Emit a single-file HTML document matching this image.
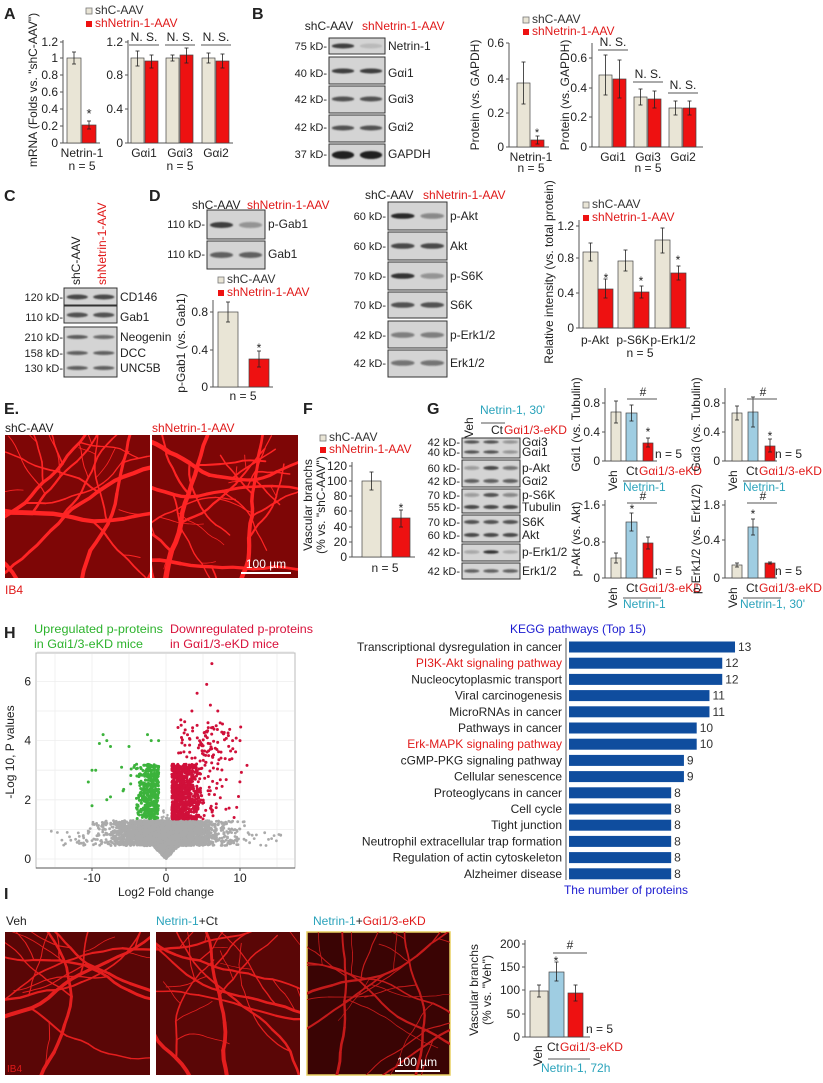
<!DOCTYPE html>
<html><head><meta charset="utf-8">
<style>
html,body{margin:0;padding:0;background:#fff;width:823px;height:1083px;overflow:hidden;}
svg{display:block;font-family:"Liberation Sans",Arial,sans-serif;}
</style></head>
<body>
<svg id="fig" width="823" height="1083" viewBox="0 0 823 1083" xmlns="http://www.w3.org/2000/svg"></svg>
<script>
let s='';
let seed=12345;
function rnd(){seed|=0;seed=seed+0x6D2B79F5|0;let t=Math.imul(seed^seed>>>15,1|seed);t=t+Math.imul(t^t>>>7,61|t)^t;return((t^t>>>14)>>>0)/4294967296;}
function gauss(){return Math.sqrt(-2*Math.log(rnd()+1e-9))*Math.cos(2*Math.PI*rnd());}
const BE='#e9e5d6',RD='#ee1111',BL='#9fcde2',CY='#2aa3bb',RT='#e01a1a';
function T(x,y,t,o={}){s+=`<text x="${x}" y="${y}" font-size="${o.fs||11}" fill="${o.c||'#222'}" text-anchor="${o.a||'start'}"${o.b?' font-weight="bold"':''}${o.r!=null?` transform="rotate(${o.r} ${x} ${y})"`:''}${o.tl?` textLength="${o.tl}" lengthAdjust="spacingAndGlyphs"`:''}>${t}</text>`;}
function R(x,y,w,h,f,st,sw){s+=`<rect x="${x}" y="${y}" width="${w}" height="${h}" fill="${f}"${st?` stroke="${st}" stroke-width="${sw||0.8}"`:''}/>`;}
function L(x1,y1,x2,y2,c,w){s+=`<line x1="${x1}" y1="${y1}" x2="${x2}" y2="${y2}" stroke="${c||'#333'}" stroke-width="${w||1}"/>`;}
function bar(x0,x1,top,base,f,e1,e2){R(x0,top,x1-x0,base-top,f,'#444',0.7);if(e1!=null){const c=(x0+x1)/2;L(c,e1,c,e2,'#222',0.8);L(c-2,e1,c+2,e1,'#222',0.8);L(c-2,e2,c+2,e2,'#222',0.8);}}
function axis(x,y0,y1,ticks,be,fs){L(x,y0,x,y1,'#555',1);ticks.forEach(t=>{L(x-3,t[0],x,t[0],'#555',1);T(x-5,t[0]+4,t[1],{a:'end',fs:fs||12});});L(x,y1,be,y1,'#555',1);}
function blot(x0,y0,x1,y1,bands){R(x0,y0,x1-x0,y1-y0,'#d4d4d4','#333',1);bands.forEach(b=>{const n=b[1].length,lw=(x1-x0)/n;b[1].forEach((v,i)=>{s+=`<ellipse cx="${x0+lw*(i+0.5)}" cy="${b[0]}" rx="${lw*0.4}" ry="${b[2]||2.5}" fill="rgba(25,25,25,${v})" filter="url(#bl)"/>`;});});}
function kd(x,y,t){T(x,y,t+'-',{a:'end',fs:11});}
function leg(x,y,dy,fs){R(x,y-6,6,6,BE,'#777',0.8);T(x+9,y,'shC-AAV',{fs:fs||12,c:'#333'});R(x,y+dy-6,6,6,RD);T(x+9,y+dy,'shNetrin-1-AAV',{fs:fs||12,c:RT});}
let cid=0;
function retina(x,y,w,h,bg,col,sd,trunks,wmul,border){
 cid++;seed=sd;s+=`<clipPath id="c${cid}"><rect x="${x}" y="${y}" width="${w}" height="${h}"/></clipPath>`;
 R(x,y,w,h,bg,border||null,border?1.5:0);
 s+=`<g clip-path="url(#c${cid})" stroke="${col}" fill="none" stroke-linecap="round" stroke-linejoin="round">`;
 function br(px,py,a,wd,len,d){if(d<=0||wd<0.6)return;let cx=px,cy=py,p=`M${px.toFixed(1)} ${py.toFixed(1)}`;for(let i=0;i<3;i++){a+=(rnd()-0.5)*0.35;cx+=Math.cos(a)*len/3;cy+=Math.sin(a)*len/3;p+=` L${cx.toFixed(1)} ${cy.toFixed(1)}`;}
  s+=`<path d="${p}" stroke-width="${wd.toFixed(1)}"/>`;
  br(cx,cy,a+(rnd()-0.5)*0.3,wd*0.92,len,d-1);
  if(rnd()<0.5)br(cx,cy,a+(rnd()<0.5?-1:1)*(0.6+rnd()*0.6),wd*0.5,len*0.75,d-2);}
 for(let i=0;i<trunks;i++){const side=rnd();let px,py,a;if(side<0.4){px=x+rnd()*w;py=y+h+3;a=-Math.PI/2+(rnd()-0.5)*1.2;}else if(side<0.7){px=x-3;py=y+rnd()*h;a=(rnd()-0.5)*1.4;}else{px=x+w+3;py=y+rnd()*h;a=Math.PI+(rnd()-0.5)*1.4;}br(px,py,a,(3+rnd()*2.5)*wmul,22+rnd()*10,8);}
 s+='</g>';}
s+=`<defs><filter id="bl" x="-20%" y="-100%" width="140%" height="300%"><feGaussianBlur stdDeviation="0.9"/></filter></defs>`;
R(0,0,823,1083,'#fff');

// ===== A =====
T(4,19,'A',{fs:16,b:1});leg(86,14,13);
axis(63,40,143,[[42,'1.2'],[58,'1'],[75,'0.8'],[92,'0.6'],[109,'0.4'],[126,'0.2'],[143,'0']],100);
bar(67,81,58,143,BE,52,64);bar(82,96,125,143,RD,121,129);T(89,118,'*',{a:'middle',fs:13});
T(82,157,'Netrin-1',{a:'middle',fs:12});T(82,170,'n = 5',{a:'middle',fs:12});
T(37,90,'mRNA (Folds vs. "shC-AAV")',{a:'middle',fs:12,r:-90});
axis(128,40,143,[[42,'1.2'],[75,'0.8'],[109,'0.4'],[143,'0']],233);
bar(131,144,58,143,BE,51,66);bar(145,158,61,143,RD,55,68);
bar(166,179,58,143,BE,55,61);bar(180,193,55,143,RD,48,63);
bar(202,215,58,143,BE,53,63);bar(216,229,61,143,RD,54,68);
[[144,'Gαi1'],[180,'Gαi3'],[216,'Gαi2']].forEach(g=>{T(g[0],41,'N. S.',{a:'middle',fs:12});L(g[0]-15,45,g[0]+15,45,'#555',1);T(g[0],157,g[1],{a:'middle',fs:12});});
T(180,170,'n = 5',{a:'middle',fs:12});

// ===== B =====
T(252,19,'B',{fs:16,b:1});
T(329,30,'shC-AAV',{a:'middle',fs:12});T(362,30,'shNetrin-1-AAV',{fs:12,c:RT});
blot(329,38,385,54,[[46,[0.8,0.12],2.5]]);blot(329,57,385,84,[[71,[0.8,0.8],2.5]]);blot(329,86,385,113,[[99,[0.7,0.7],2.5]]);blot(329,115,385,142,[[128,[0.7,0.7],2.5]]);blot(329,144,385,166,[[155,[0.95,0.95],4]]);
kd(327,50,'75 kD');kd(327,77,'40 kD');kd(327,103,'42 kD');kd(327,131,'42 kD');kd(327,158,'37 kD');
T(388,50,'Netrin-1',{fs:12});T(388,77,'Gαi1',{fs:12});T(388,103,'Gαi3',{fs:12});T(388,131,'Gαi2',{fs:12});T(388,158,'GAPDH',{fs:12});
leg(523,23,12);
axis(509,43,147,[[43,'0.6'],[79,'0.4'],[113,'0.2'],[147,'0']],549);
bar(517,530,83,147,BE,62,104);bar(531,544,140,147,RD,136,144);T(537,136,'*',{a:'middle',fs:11});
T(531,161,'Netrin-1',{a:'middle',fs:12});T(531,172,'n = 5',{a:'middle',fs:12});
T(479,95,'Protein (vs. GAPDH)',{a:'middle',fs:12,r:-90});
axis(592,43,147,[[58,'0.6'],[88,'0.4'],[117,'0.2'],[147,'0']],703);
bar(599,612,75,147,BE,55,95);bar(613,626,79,147,RD,60,98);
bar(634,647,97,147,BE,89,105);bar(648,661,99,147,RD,91,108);
bar(669,682,108,147,BE,101,115);bar(683,696,108,147,RD,101,115);
[[613,46,'Gαi1'],[648,78,'Gαi3'],[683,89,'Gαi2']].forEach(g=>{T(g[0],g[1],'N. S.',{a:'middle',fs:12});L(g[0]-15,g[1]+4,g[0]+15,g[1]+4,'#555',1);T(g[0],161,g[2],{a:'middle',fs:12});});
T(648,172,'n = 5',{a:'middle',fs:12});
T(569,95,'Protein (vs. GAPDH)',{a:'middle',fs:12,r:-90});

// ===== C =====
T(4,201,'C',{fs:16,b:1});
T(80,285,'shC-AAV',{fs:12,r:-90});T(106,285,'shNetrin-1-AAV',{fs:12,r:-90,c:RT});
blot(64,288,117,305,[[297,[0.75,0.75],2.5]]);blot(64,306,117,323,[[315,[0.7,0.7],2.5]]);
blot(64,327,117,377,[[337,[0.65,0.55],2],[353,[0.6,0.6],2],[368,[0.6,0.6],2]]);
kd(63,301,'120 kD');kd(63,321,'110 kD');kd(63,341,'210 kD');kd(63,357,'158 kD');kd(63,372,'130 kD');
T(120,301,'CD146',{fs:12});T(120,321,'Gab1',{fs:12});T(120,341,'Neogenin',{fs:12});T(120,357,'DCC',{fs:12});T(120,372,'UNC5B',{fs:12});

// ===== D =====
T(149,201,'D',{fs:16,b:1});
T(192,209,'shC-AAV',{fs:12});T(247,209,'shNetrin-1-AAV',{fs:12,c:RT});
blot(207,210,265,239,[[225,[0.8,0.35],3]]);blot(207,241,265,269,[[255,[0.6,0.6],3]]);
kd(205,228,'110 kD');kd(205,258,'110 kD');T(268,228,'p-Gab1',{fs:12});T(268,258,'Gab1',{fs:12});
leg(218,283,13);
axis(213,300,387,[[312,'0.8'],[350,'0.4'],[387,'0']],273);
bar(218,238,312,387,BE,302,322);bar(249,269,359,387,RD,351,367);T(259,352,'*',{a:'middle',fs:12});
T(243,400,'n = 5',{a:'middle',fs:12});T(185,343,'p-Gab1 (vs. Gab1)',{a:'middle',fs:12,r:-90});
T(365,199,'shC-AAV',{fs:12});T(423,199,'shNetrin-1-AAV',{fs:12,c:RT});
const dm=[[202,230,216,[0.9,0.4],'60 kD','p-Akt'],[232,260,246,[0.75,0.75],'60 kD','Akt'],[262,290,276,[0.85,0.35],'70 kD','p-S6K'],[292,318,305,[0.7,0.7],'70 kD','S6K'],[321,348,335,[0.45,0.45],'42 kD','p-Erk1/2'],[350,377,363,[0.5,0.5],'42 kD','Erk1/2']];
dm.forEach(r=>{blot(388,r[0],447,r[1],[[r[2],r[3],2.8]]);kd(386,r[2]+4,r[4]);T(450,r[2]+4,r[5],{fs:12});});
leg(583,208,13);
axis(579,220,328,[[226,'1.2'],[258,'0.8'],[293,'0.4'],[328,'0']],690);
bar(583,598,252,328,BE,243,261);bar(598,613,289,328,RD,279,298);
bar(618,633,261,328,BE,250,271);bar(634,649,292,328,RD,286,298);
bar(655,670,240,328,BE,228,253);bar(671,686,273,328,RD,266,280);
T(606,282,'*',{a:'middle',fs:12});T(641,285,'*',{a:'middle',fs:12});T(678,264,'*',{a:'middle',fs:12});
T(595,344,'p-Akt',{a:'middle',fs:12});T(633,344,'p-S6K',{a:'middle',fs:12});T(673,344,'p-Erk1/2',{a:'middle',fs:12});T(640,357,'n = 5',{a:'middle',fs:12});
T(553,272,'Relative intensity (vs. total protein)',{a:'middle',fs:12,r:-90});

// ===== E =====
T(4,414,'E.',{fs:16,b:1});T(5,432,'shC-AAV',{fs:12});T(152,432,'shNetrin-1-AAV',{fs:12,c:RT});
retina(5,435,145,143,'#7e0606','#ff2424',11,6,1.1);retina(152,435,146,143,'#7e0606','#ff2424',77,6,1.1);
L(241,573,291,573,'#fff',2);T(266,568,'100 µm',{a:'middle',fs:12,c:'#fff'});
T(5,594,'IB4',{fs:12,c:RT});

// ===== F =====
T(303,414,'F',{fs:16,b:1});leg(320,441,12);
axis(352,462,557,[[466,'120'],[481,'100'],[496,'80'],[511,'60'],[527,'40'],[542,'20'],[557,'0']],415);
bar(362,381,481,557,BE,472,490);bar(392,410,518,557,RD,510,527);T(401,512,'*',{a:'middle',fs:12});
T(385,572,'n = 5',{a:'middle',fs:12});
T(312,505,'Vascular branchs',{a:'middle',fs:12,r:-90});T(325,505,'(% vs. "shC-AAV")',{a:'middle',fs:12,r:-90});

// ===== G =====
T(427,414,'G',{fs:16,b:1});
T(473,438,'Veh',{fs:12,r:-90});T(480,414,"Netrin-1, 30'",{fs:12,c:CY});L(481,423,505,423,'#555',1);
T(491,434,'Ct',{fs:12});T(504,434,'Gαi1/3-eKD',{fs:12,c:RT});
blot(462,438,520,458,[[442,[0.7,0.7,0.35],1.6],[452,[0.7,0.7,0.35],1.6]]);
blot(462,460,520,487,[[468,[0.3,0.75,0.5],2],[481,[0.6,0.6,0.6],2]]);
blot(462,489,520,513,[[495,[0.3,0.7,0.4],2],[507,[0.75,0.75,0.75],2]]);
blot(462,515,520,542,[[522,[0.7,0.7,0.7],2],[535,[0.75,0.75,0.75],2]]);
blot(462,544,520,561,[[552,[0.25,0.85,0.2],1.8]]);
blot(462,563,520,579,[[571,[0.6,0.6,0.6],1.8]]);
[[446,'42 kD','Gαi3'],[456,'40 kD','Gαi1'],[472,'60 kD','p-Akt'],[485,'42 kD','Gαi2'],[499,'70 kD','p-S6K'],[511,'55 kD','Tubulin'],[526,'70 kD','S6K'],[539,'60 kD','Akt'],[556,'42 kD','p-Erk1/2'],[575,'42 kD','Erk1/2']].forEach(r=>{kd(460,r[0],r[1]);T(522,r[0],r[2],{fs:12});});
function gch(ax,bars,ticks,y0,y1,title,star,hashY,nlab,nx){
 axis(ax,y0,y1,ticks,ax+52,12);
 bars.forEach(b=>bar(b[0],b[1],b[2],y1,b[3],b[4],b[5]));
 if(star)T(star[0],star[1],'*',{a:'middle',fs:12});
 L(ax+22,hashY+3,ax+52,hashY+3,'#555',1);T(ax+38,hashY,'#',{a:'middle',fs:12});
 T(ax+50,y1-3,'n = 5',{fs:12});
 T(ax-25,(y0+y1)/2,title,{a:'middle',fs:12,r:-90});
 T(ax+12,y1+30,'Veh',{fs:12,r:-90});T(ax+21,y1+14,'Ct',{fs:12});T(ax+34,y1+14,'Gαi1/3-eKD',{fs:12,c:RT});
 L(ax+18,y1+20,ax+56,y1+20,'#555',1);T(ax+(nx||18),y1+30,nlab,{fs:12,c:CY});}
gch(605,[[611,621,412,BE,401,423],[626,637,413,BL,405,421],[643,653,443,RD,438,447]],[[403,'0.8'],[432,'0.4'],[461,'0']],388,461,'Gαi1 (vs. Tubulin)',[648,436],396,'Netrin-1');
gch(725,[[732,742,413,BE,406,420],[748,758,412,BL,397,427],[765,775,446,RD,439,452]],[[403,'0.8'],[432,'0.4'],[461,'0']],388,461,'Gαi3 (vs. Tubulin)',[770,440],396,'Netrin-1');
gch(605,[[611,621,558,BE,553,563],[626,637,522,BL,513,531],[643,653,543,RD,537,549]],[[505,'1.6'],[542,'0.8'],[578,'0']],500,578,'p-Akt (vs. Akt)',[632,513],500,'Netrin-1');
gch(725,[[732,742,565,BE,563,567],[748,758,527,BL,519,535],[765,775,563,RD,562,564]],[[505,'1.8'],[540,'0.4'],[578,'0']],500,578,'p-Erk1/2 (vs. Erk1/2)',[753,518],500,"Netrin-1, 30'",15);

// ===== H =====
T(4,638,'H',{fs:16,b:1});
T(34,633,'Upregulated p-proteins',{fs:12,c:'#2db32d',tl:129});T(34,648,'in Gαi1/3-eKD mice',{fs:12,c:'#2db32d',tl:109});
T(170,633,'Downregulated p-proteins',{fs:12,c:'#d8103a',tl:143});T(170,648,'in Gαi1/3-eKD mice',{fs:12,c:'#d8103a',tl:109});
R(36,653,259,215,'#fff','#bbb',1);
const vx=u=>166+u*7.4, vy=v=>859-v*29.6;
[-10,-5,0,5,10,15,-15].forEach(u=>L(vx(u),654,vx(u),867,'#eee',0.8));[0,1,2,3,4,5,6,7].forEach(v=>L(37,vy(v),294,vy(v),'#eee',0.8));
seed=999;let pts='';
for(let i=0;i<3500;i++){let u=gauss()*3.2;if(rnd()<0.15)u=gauss()*6;u=Math.max(-15.5,Math.min(15.5,u));let lo=Math.min(0.45,Math.abs(u)*0.25);let v=lo+rnd()*(1.3-lo);if(Math.abs(u)>11)v=0.45+rnd()*0.5;pts+=`<circle cx="${vx(u).toFixed(1)}" cy="${vy(v).toFixed(1)}" r="1.4" fill="#aaa"/>`;}
for(let i=0;i<40;i++){let u=(rnd()-0.5)*1.2,v=0.3+rnd()*1.4;pts+=`<circle cx="${vx(u).toFixed(1)}" cy="${vy(v).toFixed(1)}" r="1.2" fill="#aaa"/>`;}
for(let i=0;i<420;i++){let u=-(1+Math.abs(gauss())*1.6),v=1.35+rnd()*1.85;if(u<-4&&rnd()<0.6)continue;pts+=`<circle cx="${vx(u).toFixed(1)}" cy="${vy(v).toFixed(1)}" r="1.5" fill="#3cb33c"/>`;}
[[-8.5,4.2],[-8,4],[-7.5,3.8],[-9,3.9],[-5,3.8],[-2.5,4.2],[-2,4],[-1,4],[-10,3],[-9.5,3],[-10.5,2.6],[-10,1.8],[-8,2],[-7.5,2.1],[-6,3.1],[-5.8,2.3]].forEach(p=>pts+=`<circle cx="${vx(p[0])}" cy="${vy(p[1])}" r="1.5" fill="#3cb33c"/>`);
for(let i=0;i<900;i++){let u=0.8+Math.abs(gauss())*(rnd()<0.6?1.8:4),v=1.35+Math.pow(rnd(),rnd()<0.7?1:1.6)*(u<4.5?1.85:3.2);if(u>4.5&&rnd()<0.4)continue;if(u>11)u=6+rnd()*4;pts+=`<circle cx="${vx(u).toFixed(1)}" cy="${vy(v).toFixed(1)}" r="1.5" fill="#d0103a"/>`;}
for(let i=0;i<60;i++){let u=1.5+rnd()*8,v=3.2+rnd()*1.5;pts+=`<circle cx="${vx(u).toFixed(1)}" cy="${vy(v).toFixed(1)}" r="1.5" fill="#d0103a"/>`;}
[[6.2,6.6],[5.5,5.9],[4.2,5.6],[6,5.2],[7,5],[3.5,5],[2,4.7],[10,4],[9,4]].forEach(p=>pts+=`<circle cx="${vx(p[0])}" cy="${vy(p[1])}" r="1.5" fill="#d0103a"/>`);
s+=pts;
L(36,868,295,868,'#555',1);
[[-10,'-10'],[0,'0'],[10,'10']].forEach(t=>{L(vx(t[0]),868,vx(t[0]),871,'#555',1);T(vx(t[0]),882,t[1],{a:'middle',fs:12});});
[[0,'0'],[2,'2'],[4,'4'],[6,'6']].forEach(t=>T(31,vy(t[0])+4,t[1],{a:'end',fs:12}));
T(14,752,'-Log 10, P values',{a:'middle',fs:12,r:-90});T(166,896,'Log2 Fold change',{a:'middle',fs:12});
T(578,633,'KEGG pathways (Top 15)',{a:'middle',fs:12,c:'#1a1ad0'});
const kg=[['Transcriptional dysregulation in cancer',13],['PI3K-Akt signaling pathway',12,1],['Nucleocytoplasmic transport',12],['Viral carcinogenesis',11],['MicroRNAs in cancer',11],['Pathways in cancer',10],['Erk-MAPK signaling pathway',10,1],['cGMP-PKG signaling pathway',9],['Cellular senescence',9],['Proteoglycans in cancer',8],['Cell cycle',8],['Tight junction',8],['Neutrophil extracellular trap formation',8],['Regulation of actin cytoskeleton',8],['Alzheimer disease',8]];
L(566,638,566,880,'#555',1);
kg.forEach((k,i)=>{const cy=647+i*16.2;R(569,cy-5.5,k[1]*12.77,11,'#0f4d9e');T(562,cy+4,k[0],{a:'end',fs:12,c:k[2]?RT:'#222'});T(569+k[1]*12.77+3,cy+4,''+k[1],{fs:12,c:'#333'});});
T(626,894,'The number of proteins',{a:'middle',fs:12,c:'#1a1ad0'});

// ===== I =====
T(4,899,'I',{fs:16,b:1});
T(6,925,'Veh',{fs:12});
s+=`<text x="156" y="925" font-size="12"><tspan fill="${CY}">Netrin-1</tspan><tspan fill="#222">+Ct</tspan></text>`;
s+=`<text x="313" y="925" font-size="12"><tspan fill="${CY}">Netrin-1</tspan><tspan fill="#222">+</tspan><tspan fill="${RT}">Gαi1/3-eKD</tspan></text>`;
retina(5,932,145,143,'#5a0606','#e41e1e',321,6,0.75);retina(156,932,144,143,'#5a0606','#e41e1e',555,7,0.75);retina(307,932,143,143,'#3a0404','#c41a1a',888,7,0.6,'#e8d060');
L(395,1071,440,1071,'#fff',2);T(417,1066,'100 µm',{a:'middle',fs:12,c:'#fff'});
T(7,1072,'IB4',{fs:10,c:RT});
axis(525,940,1037,[[944,'200'],[967,'150'],[990,'100'],[1014,'50'],[1037,'0']],590);
bar(530,548,991,1037,BE,985,997);bar(549,564,972,1037,BL,962,981);bar(568,583,993,1037,RD,985,1001);
T(556,965,'*',{a:'middle',fs:12});L(553,953,587,953,'#555',1);T(570,949,'#',{a:'middle',fs:12});
T(586,1033,'n = 5',{fs:12});
T(542,1066,'Veh',{fs:12,r:-90});T(547,1051,'Ct',{fs:12});T(560,1051,'Gαi1/3-eKD',{fs:12,c:RT});
L(548,1059,590,1059,'#555',1);T(541,1072,'Netrin-1, 72h',{fs:12,c:CY});
T(478,990,'Vascular branchs',{a:'middle',fs:12,r:-90});T(491,990,'(% vs. "Veh")',{a:'middle',fs:12,r:-90});

document.getElementById('fig').innerHTML=s;
</script>
</body></html>
